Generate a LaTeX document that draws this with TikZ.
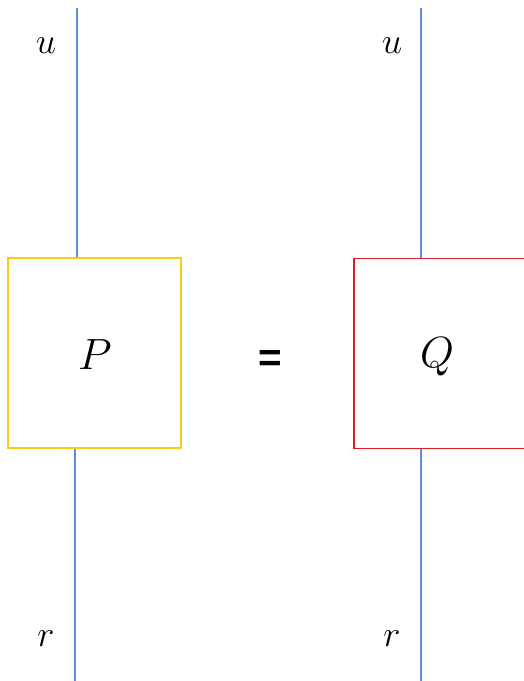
\documentclass[tikz,border=0pt]{standalone}
\usepackage{amsmath,amssymb}
\usepackage{fontspec}
\newfontfamily\eqfont{Liberation Sans}
\usetikzlibrary{positioning}
\definecolor{wirecol}{RGB}{95,140,215}
\definecolor{pcol}{RGB}{250,205,20}
\definecolor{qcol}{RGB}{225,30,40}

\begin{document}
\begin{tikzpicture}[x=0.02cm,y=-0.02cm,
    wire/.style={wirecol,line width=0.8pt},
    gate/.style={draw,line width=1.1pt,minimum width=3.46cm,minimum height=3.8cm,inner sep=0pt},
    leg/.style={font=\fontsize{20}{24}\selectfont}]
  \useasboundingbox (0,0) rectangle (524,681);
  % the two boxes
  \node[gate,pcol] (P) at (94.5,353) {};
  \node[font=\fontsize{24}{28}\selectfont] (Plab) at (95,355) {$P$};
  \node[gate,qcol] (Q) at (440.5,353.5) {};
  \node[font=\fontsize{24}{28}\selectfont] (Qlab) at (437,357) {$Q$};
  \node[font=\eqfont\bfseries\fontsize{23}{26}\selectfont] (eq) at (270,361) {=};
  % wires
  \coordinate (Ptop) at (77,8);
  \coordinate (Pbot) at (75,681);
  \coordinate (Qtop) at (421,8);
  \coordinate (Qbot) at (421,681);
  \draw[wire] (Ptop) -- (Ptop |- P.north);
  \draw[wire] (Pbot |- P.south) -- (Pbot);
  \draw[wire] (Qtop) -- (Qtop |- Q.north);
  \draw[wire] (Qbot |- Q.south) -- (Qbot);
  % labels
  \node[leg] (Pu) at (46,46) {$u$};
  \node[leg] (Pr) at (46,639) {$r$};
  \node[leg] (Qu) at (392,46) {$u$};
  \node[leg] (Qr) at (392,639) {$r$};
\end{tikzpicture}
\end{document}
